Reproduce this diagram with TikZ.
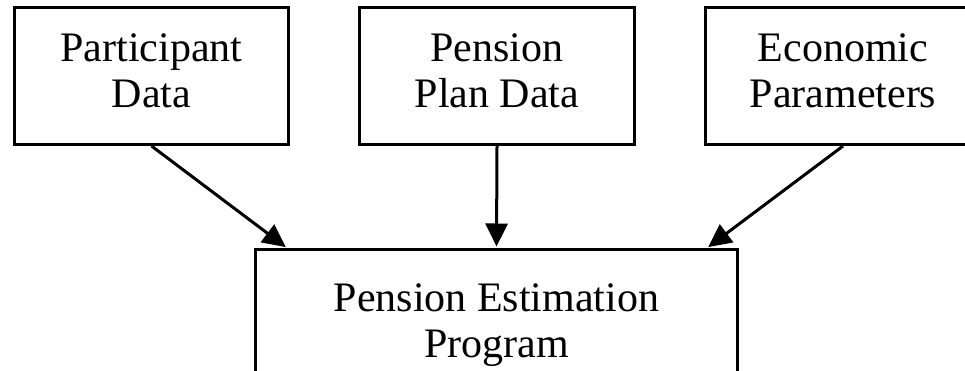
\documentclass[tikz,border=0pt]{standalone}
\usepackage{fontspec}
\setmainfont{Liberation Serif}
\usetikzlibrary{arrows.meta}
\tikzset{
  box/.style={draw=black, line width=3pt, rectangle, align=center, inner sep=0pt,
    text depth=10pt, font=\fontsize{42}{46}\selectfont},
  flow/.style={line width=3pt, -{Triangle[length=23pt,width=22pt]}, shorten >=1.5pt}
}
\begin{document}
\begin{tikzpicture}[x=1pt,y=-1pt]
\useasboundingbox (0,0) rectangle (965,371);
\clip (0,0) rectangle (965,371);
\node[box, minimum width=274pt, minimum height=137pt] (part) at (151.5,76) {Participant\\Data};
\node[box, minimum width=275pt, minimum height=137pt] (plan) at (497,76) {Pension\\Plan Data};
\node[box, minimum width=275pt, minimum height=137pt] (econ) at (843,76) {Economic\\Parameters};
\node[box, minimum width=482pt, minimum height=153pt] (prog) at (496.5,326) {Pension Estimation\\Program};
\draw[flow] (part.south) -- ([xshift=33pt]prog.north west);
\draw[flow] (plan.south) -- (prog.north);
\draw[flow] (econ.south) -- ([xshift=-32pt]prog.north east);
\end{tikzpicture}
\end{document}
